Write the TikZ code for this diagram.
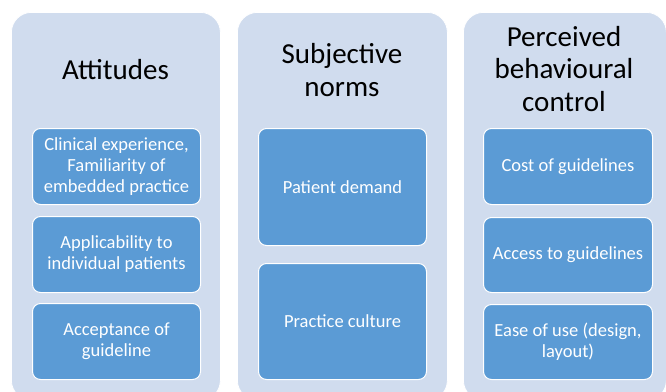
\documentclass[tikz,border=0pt]{standalone}
\usepackage{fontspec}
\setmainfont{Carlito}
\definecolor{panelfill}{HTML}{D0DCEE}
\definecolor{boxfill}{HTML}{5B9BD5}
\begin{document}
\begin{tikzpicture}[x=1pt,y=-1pt,
  panel/.style={fill=panelfill, draw=white, line width=0.8pt, rounded corners=20pt, anchor=north west, inner sep=0pt},
  ttl/.style={font=\fontsize{29}{32.5}\selectfont, align=center, text=black, inner sep=0pt},
  item/.style={fill=boxfill, draw=white, line width=1pt, rounded corners=8pt, anchor=north west, inner sep=0pt},
  itxt/.style={text=white, align=center, inner sep=0pt, font=\fontsize{18.5}{21}\selectfont}]
\useasboundingbox (0,0) rectangle (666,391);
\clip (0,0) rectangle (666,391);
% panels
\node[panel, minimum width=209pt, minimum height=388pt] (p1) at (11,12) {};
\node[panel, minimum width=210pt, minimum height=388pt] (p2) at (237,12) {};
\node[panel, minimum width=203pt, minimum height=388pt] (p3) at (463,12) {};
% titles
\node[ttl] (t1) at (115.5,70) {Attitudes};
\node[ttl] (t2) at (342,70) {Subjective\\norms};
\node[ttl] (t3) at (564,69) {Perceived\\behavioural\\control};
% attitudes items
\node[item, minimum width=168pt, minimum height=76pt] (a1) at (32,128) {};
\node[itxt] (a1t) at (a1.center) {Clinical experience,\\Familiarity of\\embedded practice};
\node[item, minimum width=168pt, minimum height=76pt] (a2) at (32,216) {};
\node[itxt] (a2t) at (a2.center) {Applicability to\\individual patients};
\node[item, minimum width=168pt, minimum height=76pt] (a3) at (32,303) {};
\node[itxt] (a3t) at (a3.center) {Acceptance of\\guideline};
% subjective norms items
\node[item, minimum width=168pt, minimum height=117pt] (s1) at (258,128) {};
\node[itxt] (s1t) at (s1.center) {Patient demand};
\node[item, minimum width=168pt, minimum height=116pt] (s2) at (258,263) {};
\node[itxt] (s2t) at (s2.center) {Practice culture};
% pbc items
\node[item, minimum width=169pt, minimum height=76pt] (c1) at (483,128) {};
\node[itxt] (c1t) at (c1.center) {Cost of guidelines};
\node[item, minimum width=169pt, minimum height=75pt] (c2) at (483,217) {};
\node[itxt] (c2t) at (c2.center) {Access to guidelines};
\node[item, minimum width=169pt, minimum height=75pt] (c3) at (483,304) {};
\node[itxt] (c3t) at (c3.center) {Ease of use (design,\\layout)};
\end{tikzpicture}
\end{document}
